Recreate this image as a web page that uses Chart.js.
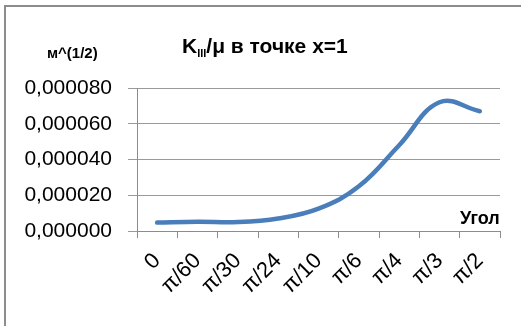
<!DOCTYPE html>
<html><head><meta charset="utf-8">
<script src="https://cdn.jsdelivr.net/npm/chart.js@4"></script>
<style>
html,body{margin:0;padding:0;background:#fff;}
#wrap{position:relative;width:521px;height:326px;overflow:hidden;font-family:"Liberation Sans",Arial,sans-serif;}
#frame{position:absolute;left:4px;top:5px;width:600px;height:400px;border-left:2px solid #8c8c8c;border-top:2px solid #8c8c8c;}
canvas{position:absolute;left:0;top:0;}
.t{position:absolute;font-weight:bold;color:#000;white-space:nowrap;line-height:1;}
#title{left:182px;top:35px;font-size:21px;}
#title sub{font-size:11px;vertical-align:-4px;}
#unit{left:47px;top:45px;font-size:15px;}
#xname{left:460px;top:209px;font-size:18px;}
</style></head><body>
<div id="wrap">
<div id="frame"></div>
<canvas id="c" width="521" height="326"></canvas>
<div class="t" id="title">K<sub>III</sub>/μ в точке x=1</div>
<div class="t" id="unit">м^(1/2)</div>
<div class="t" id="xname">Угол</div>
</div>
<script>
const categories = ['0','π/60','π/30','π/24','π/10','π/6','π/4','π/3','π/2'];
const seriesValues = [0.0000047,0.0000052,0.0000050,0.0000070,0.0000125,0.0000250,0.0000480,0.0000720,0.0000670];
const yTicks = [0,0.00002,0.00004,0.00006,0.00008];

new Chart(document.getElementById('c'),{
  type:'line',
  data:{labels:categories,datasets:[{data:seriesValues,borderColor:'#4a7ebb',borderWidth:4.5,
    tension:0.4,pointRadius:0,pointHoverRadius:0,fill:false,borderCapStyle:'round'}]},
  options:{
    responsive:false,animation:false,devicePixelRatio:1,
    layout:{padding:{left:0,right:21,top:88,bottom:0}},
    plugins:{legend:{display:false},title:{display:false},tooltip:{enabled:false}},
    scales:{
      x:{offset:true,
        grid:{offset:true,drawOnChartArea:false,drawTicks:true,tickLength:7,color:'#8c8c8c'},
        border:{color:'#8c8c8c'},
        ticks:{color:'#000',font:{family:'Liberation Sans',size:22},maxRotation:45,minRotation:45,padding:10,autoSkip:false},
        afterFit(s){s.height=95;}
      },
      y:{min:0,max:0.00008,
        afterBuildTicks(s){s.ticks=yTicks.map(v=>({value:v}));},
        grid:{color:'#9a9a9a',tickLength:9},
        border:{color:'#8c8c8c'},
        ticks:{color:'#000',font:{family:'Liberation Sans',size:21},padding:16,
          callback:v=>Number(v).toFixed(6).replace('.',',')},
        afterFit(s){s.width=137;}
      }
    }
  }
});
</script>
</body></html>
